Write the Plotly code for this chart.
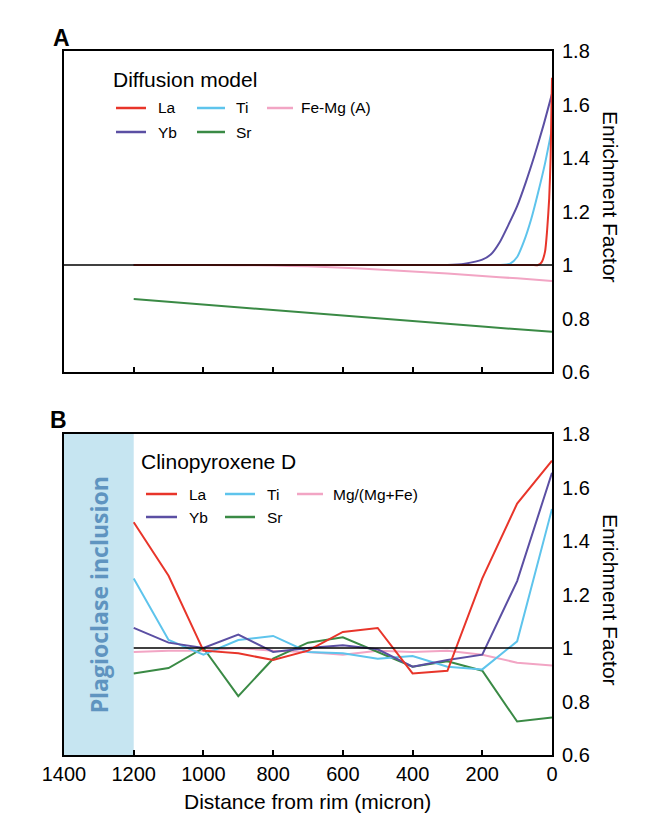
import plotly.graph_objects as go

# ---------------- Panel A: diffusion model ----------------
diff_la_x = [1200, 60, 40, 30, 20, 14, 8, 4, 2, 0]
diff_la_y = [1.0, 1.0, 1.0, 1.01, 1.05, 1.13, 1.25, 1.40, 1.55, 1.70]
diff_yb_x = [1200, 600, 400, 300, 250, 200, 175, 150, 125, 100, 75, 50, 25, 0]
diff_yb_y = [1.0, 1.0, 1.0, 1.0, 1.005, 1.02, 1.04, 1.085, 1.15, 1.22, 1.31, 1.41, 1.52, 1.64]
diff_ti_x = [1200, 200, 150, 120, 100, 80, 60, 40, 20, 0]
diff_ti_y = [1.0, 1.0, 1.0, 1.005, 1.03, 1.09, 1.17, 1.27, 1.38, 1.51]
diff_sr_x = [1200, 1000, 800, 600, 400, 200, 0]
diff_sr_y = [0.873, 0.852, 0.832, 0.811, 0.791, 0.770, 0.750]
diff_femg_x = [1200, 1000, 800, 700, 600, 500, 400, 300, 200, 100, 0]
diff_femg_y = [1.0, 1.0, 0.998, 0.995, 0.99, 0.983, 0.976, 0.968, 0.959, 0.95, 0.94]

# ---------------- Panel B: Clinopyroxene D ----------------
cpx_dist = [1200, 1100, 1000, 900, 800, 700, 600, 500, 400, 300, 200, 100, 0]
cpx_la = [1.47, 1.27, 0.99, 0.98, 0.955, 0.99, 1.06, 1.075, 0.905, 0.915, 1.26, 1.54, 1.70]
cpx_yb = [1.075, 1.02, 1.0, 1.05, 0.985, 1.0, 1.01, 0.995, 0.93, 0.955, 0.975, 1.25, 1.655]
cpx_ti = [1.26, 1.03, 0.975, 1.03, 1.045, 0.985, 0.98, 0.96, 0.97, 0.93, 0.92, 1.025, 1.52]
cpx_sr = [0.905, 0.925, 1.0, 0.82, 0.96, 1.02, 1.04, 0.985, 0.93, 0.95, 0.915, 0.725, 0.74]
cpx_mg = [0.985, 0.99, 0.99, 1.0, 0.99, 0.985, 0.975, 0.99, 0.985, 0.99, 0.975, 0.945, 0.935]

inclusion_range = [1400, 1200]
baseline_a = [1400, 0]
baseline_b = [1200, 0]
reference_level = 1.0

x_ticks = [1400, 1200, 1000, 800, 600, 400, 200, 0]
x_ticktext = ["1400", "1200", "1000", "800", "600", "400", "200", "0"]
y_ticks = [0.6, 0.8, 1.0, 1.2, 1.4, 1.6, 1.8]
y_ticktext = ["0.6", "0.8", "1", "1.2", "1.4", "1.6", "1.8"]

C_LA = "#e8352a"
C_YB = "#5b4fa3"
C_TI = "#5ec4ec"
C_SR = "#3a8a45"
C_MG = "#f2a5c4"
FONT = "Liberation Sans, Arial, sans-serif"

# pixel helpers for paper coordinates (plot area x 64..552, y 51..755)
L, R, T, B = 64, 552, 51, 755
def px(x):
    return (x - L) / (R - L)
def py(y):
    return (B - y) / (B - T)

fig = go.Figure()

def add(x, y, color, xa, ya, smooth=False):
    line = dict(color=color, width=2)
    if smooth:
        line.update(shape="spline", smoothing=0.6)
    fig.add_trace(go.Scatter(x=x, y=y, mode="lines", line=line,
                             xaxis=xa, yaxis=ya, showlegend=False, hoverinfo="skip"))

add(diff_sr_x, diff_sr_y, C_SR, "x", "y")
add(diff_femg_x, diff_femg_y, C_MG, "x", "y", True)
add(diff_yb_x, diff_yb_y, C_YB, "x", "y", True)
add(diff_ti_x, diff_ti_y, C_TI, "x", "y", True)
add(diff_la_x, diff_la_y, C_LA, "x", "y", True)

add(cpx_dist, cpx_mg, C_MG, "x2", "y2")
add(cpx_dist, cpx_sr, C_SR, "x2", "y2")
add(cpx_dist, cpx_ti, C_TI, "x2", "y2")
add(cpx_dist, cpx_yb, C_YB, "x2", "y2")
add(cpx_dist, cpx_la, C_LA, "x2", "y2")

shapes = []
# plagioclase inclusion band
shapes.append(dict(type="rect", xref="x2", yref="y2 domain", x0=inclusion_range[0], x1=inclusion_range[1],
                   y0=0, y1=1, fillcolor="#c6e5f1", line=dict(width=0), layer="below"))
# reference lines at 1
shapes.append(dict(type="line", xref="x", yref="y", x0=baseline_a[0], x1=baseline_a[1],
                   y0=reference_level, y1=reference_level, line=dict(color="black", width=1.5), layer="above"))
shapes.append(dict(type="line", xref="x2", yref="y2", x0=baseline_b[0], x1=baseline_b[1],
                   y0=reference_level, y1=reference_level, line=dict(color="black", width=1.5), layer="above"))

annotations = []

def legend_block(title, title_pos, rows, entries):
    tx, ty = title_pos
    annotations.append(dict(text=title, x=px(tx), y=py(ty), xref="paper", yref="paper",
                            xanchor="left", yanchor="middle", showarrow=False,
                            font=dict(family=FONT, size=21, color="black")))
    for (label, color, row, x0, x1, xt) in entries:
        yy = py(rows[row])
        shapes.append(dict(type="line", xref="paper", yref="paper", x0=px(x0), x1=px(x1),
                           y0=yy, y1=yy, line=dict(color=color, width=2.5)))
        annotations.append(dict(text=label, x=px(xt), y=yy, xref="paper", yref="paper",
                                xanchor="left", yanchor="middle", showarrow=False,
                                font=dict(family=FONT, size=15.5, color="black")))

legend_block("Diffusion model", (111, 80), [108, 132], [
    ("La", C_LA, 0, 116, 146, 156),
    ("Ti", C_TI, 0, 197, 225, 234),
    ("Fe-Mg (A)", C_MG, 0, 267, 293, 299),
    ("Yb", C_YB, 1, 116, 146, 156),
    ("Sr", C_SR, 1, 197, 225, 234),
])
legend_block("Clinopyroxene D", (139, 462), [494, 517], [
    ("La", C_LA, 0, 146, 177, 187),
    ("Ti", C_TI, 0, 225, 255, 265),
    ("Mg/(Mg+Fe)", C_MG, 0, 297, 323, 331),
    ("Yb", C_YB, 1, 146, 177, 187),
    ("Sr", C_SR, 1, 225, 255, 265),
])

# panel letters
annotations.append(dict(text="<b>A</b>", x=px(61), y=py(38), xref="paper", yref="paper",
                        xanchor="center", yanchor="middle",
                        showarrow=False, font=dict(family=FONT, size=23, color="black")))
annotations.append(dict(text="<b>B</b>", x=px(58), y=py(420), xref="paper", yref="paper",
                        xanchor="center", yanchor="middle",
                        showarrow=False, font=dict(family=FONT, size=23, color="black")))
# y titles
for yc in (197, 600):
    annotations.append(dict(text="Enrichment Factor", x=px(611), y=py(yc), xref="paper", yref="paper",
                            textangle=90, showarrow=False, xanchor="center", yanchor="middle",
                            font=dict(family=FONT, size=21, color="black")))
# x title
annotations.append(dict(text="Distance from rim (micron)", x=px(307), y=py(801), xref="paper", yref="paper",
                        showarrow=False, xanchor="center", yanchor="middle",
                        font=dict(family=FONT, size=21, color="black")))
# inclusion label
annotations.append(dict(text="<b>Plagioclase inclusion</b>", x=1300, y=0.5, xref="x2", yref="y2 domain",
                        textangle=-90, showarrow=False, xanchor="center", yanchor="middle",
                        font=dict(family="Open Sans, sans-serif", size=23, color="#5f94c0")))

axis_common = dict(showline=True, mirror=True, linecolor="black", linewidth=2,
                   showgrid=False, zeroline=False)

fig.update_layout(
    width=654, height=816,
    margin=dict(l=L, r=654 - R, t=T, b=816 - B),
    paper_bgcolor="white", plot_bgcolor="white",
    showlegend=False,
    font=dict(family=FONT, size=20, color="black"),
    xaxis=dict(domain=[0, 1], range=[1400, 0], anchor="y", tickvals=x_ticks[1:-1],
               showticklabels=False, ticks="inside", ticklen=5, tickwidth=2, tickcolor="black",
               **axis_common),
    yaxis=dict(domain=[py(372), 1], range=[0.6, 1.8], anchor="x", side="right",
               tickvals=y_ticks, ticktext=y_ticktext, ticks="", ticklabelstandoff=4,
               tickfont=dict(size=20), **axis_common),
    xaxis2=dict(domain=[0, 1], range=[1400, 0], anchor="y2", tickvals=x_ticks, ticktext=x_ticktext,
                ticks="inside", ticklen=5, tickwidth=2, tickcolor="black",
                tickfont=dict(size=20), **axis_common),
    yaxis2=dict(domain=[0, py(434)], range=[0.6, 1.8], anchor="x2", side="right",
                tickvals=y_ticks, ticktext=y_ticktext, ticks="", ticklabelstandoff=4,
                tickfont=dict(size=20), **axis_common),
    shapes=shapes,
    annotations=annotations,
)

fig.write_html("out.html")
